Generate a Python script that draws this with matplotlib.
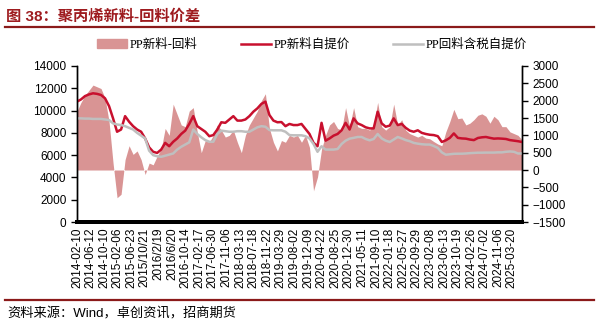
"""PP new vs recycled material price and spread chart."""

import matplotlib
matplotlib.use("Agg")
import matplotlib.pyplot as plt
import numpy as np
from matplotlib.lines import Line2D
from matplotlib.patches import Patch

plt.rcParams["font.family"] = ["Liberation Sans", "Noto Sans CJK SC"]

TICK_LABELS = [
    "2014-02-10", "2014-06-12", "2014-10-10", "2015-02-06", "2015-06-23",
    "2015/10/21", "2016/2/19", "2016/6/20", "2016-10-14", "2017-02-17",
    "2017-06-30", "2017-11-06", "2018-03-13", "2018-07-18", "2018-11-22",
    "2019-03-29", "2019-08-02", "2019-12-09", "2020-04-22", "2020-08-25",
    "2020-12-30", "2021-05-11", "2021-09-10", "2022-01-18", "2022-05-27",
    "2022-09-29", "2023-02-08", "2023-06-13", "2023-10-19", "2024-02-26",
    "2024-07-02", "2024-11-06", "2025-03-20",
]

# PP新料自提价 (left axis)
new_price = [
    10800, 11000, 11300, 11450, 11550, 11500, 11400, 11100, 10400, 9300,
    8100, 8300, 9500, 9000, 8600, 8300, 8100, 7500, 6700, 6300,
    6200, 6500, 7100, 6800, 7200, 7500, 7900, 8200, 8800, 9500,
    8600, 8350, 8100, 7700, 7800, 8300, 8950, 8900, 9200, 9500,
    9100, 9100, 9200, 9500, 9900, 10200, 10600, 10800, 9600, 9100,
    8950, 8970, 8600, 8800, 8700, 8700, 8800, 8350, 7900, 7100,
    6800, 8900, 7300, 7500, 7750, 7900, 8230, 8900, 8300, 9300,
    8850, 8700, 8500, 8400, 8400, 9900, 8850, 8550, 8650, 9300,
    8700, 8800, 8450, 8200, 8100, 8230, 8000, 7900, 7830, 7800,
    7700, 7180, 7330, 7550, 7950, 7550, 7500, 7480, 7400, 7350,
    7540, 7600, 7630, 7550, 7480, 7500, 7480, 7450, 7350, 7300,
    7250, 7180,
]

# PP回料含税自提价 (left axis)
recycled_price = [
    9300, 9300, 9280, 9280, 9250, 9250, 9250, 9200, 9150, 8850,
    8750, 8700, 8600, 8450, 8300, 8000, 7750, 7500, 6400, 6000,
    5900, 5850, 5950, 6050, 6150, 6500, 6750, 6950, 7150, 8300,
    7900, 7600, 7350, 7200, 7200, 7900, 8200, 8150, 8100, 8100,
    8150, 8150, 8100, 8100, 8300, 8500, 8600, 8550, 8250, 8230,
    8230, 8230, 8100, 7800, 7780, 7780, 7780, 7700, 7500, 7000,
    6300, 6800, 6500, 6500, 6500, 6550, 7000, 7300, 7480, 7550,
    7630, 7630, 7450, 7330, 7450, 7900, 7500, 7300, 7180, 7400,
    7630, 7500, 7350, 7250, 7100, 7030, 6980, 6950, 6950, 6820,
    6650, 6250, 6040, 6080, 6120, 6130, 6130, 6150, 6180, 6200,
    6220, 6220, 6230, 6230, 6230, 6250, 6250, 6300, 6330, 6300,
    6150, 6150,
]

# PP新料-回料 (right axis)
spread = [
    1690, 1950, 2150, 2300, 2450, 2400, 2350, 2070, 1400, 200,
    -800, -700, 300, 700, 450, 550, 300, -130, 200, 150,
    400, 600, 1200, 1000, 1900, 1600, 1300, 1250, 1700, 1800,
    1100, 500, 850, 800, 1000, 1300, 1150, 950, 1000, 1150,
    800, 500, 1000, 1300, 1500, 1700, 2000, 2200, 1200, 800,
    550, 850, 800, 1000, 950, 1000, 800, 1000, 650, -600,
    -200, 600, 1000, 1300, 1400, 1200, 1150, 1800, 1250, 1800,
    1250, 1200, 1200, 1150, 1300, 1950, 1250, 1150, 1250, 1900,
    1300, 1450, 1150, 1050, 1000, 950, 1000, 920, 900, 820,
    750, 700, 1100, 1400, 1750, 1480, 1500, 1300, 1350, 1450,
    1580, 1620, 1550, 1350, 1550, 1450, 1250, 1250, 1100, 1050,
    1000, 870,
]

RED = "#C8102E"
GRAY = "#BFBFBF"
AREA = "#D99494"
TITLE_RED = "#9E1B1F"

x = np.arange(len(new_price))

fig = plt.figure(figsize=(6, 3.24), dpi=100)
ax = fig.add_axes([0.1283, 0.3148, 0.7417, 0.4815])
ax2 = ax.twinx()

ax2.fill_between(x, 0, spread, color=AREA, lw=0)
ax.plot(x, new_price, color=RED, lw=1.8)
ax.plot(x, recycled_price, color=GRAY, lw=1.8)

ax.set_zorder(ax2.get_zorder() + 1)
ax.patch.set_visible(False)

ax.set_ylim(0, 14000)
ax.set_yticks(np.arange(0, 14001, 2000))
ax2.set_ylim(-1500, 3000)
ax2.set_yticks(np.arange(-1500, 3001, 500))
ax.set_xlim(0, len(new_price) - 1)

# labels sit every ~13.56 px, samples every 4 px
tick_pos = np.arange(len(TICK_LABELS)) * 3.39
ax.set_xticks(tick_pos)
ax.set_xticklabels(TICK_LABELS, rotation=90, fontsize=8.5)
ax.tick_params(axis="x", length=0, pad=4)
ax.tick_params(axis="y", labelsize=8.5, length=4, width=1, direction="out")
ax2.tick_params(axis="y", labelsize=8.5, length=4, width=1, direction="out")

for a in (ax, ax2):
    a.spines["top"].set_visible(False)
    a.spines["left"].set_linewidth(1)
    a.spines["right"].set_linewidth(1)
    a.spines["bottom"].set_linewidth(2.8)

# title + rules
fig.text(0.01, 1 - 17 / 324, "图 38：聚丙烯新料-回料价差", color=TITLE_RED,
         fontsize=11, weight="bold", va="center", ha="left")
fig.add_artist(Line2D([0.008, 0.99], [1 - 27 / 324] * 2, color="#8B1A1A", lw=1.6))
fig.add_artist(Line2D([0.008, 0.99], [1 - 300 / 324] * 2, color="#8B1A1A", lw=1.6))
fig.text(0.012, 1 - 314 / 324, "资料来源：Wind，卓创资讯，招商期货",
         fontsize=9.5, va="center", ha="left")

handles = [
    Patch(color=AREA, label="PP新料-回料"),
    Line2D([], [], color=RED, lw=1.8, label="PP新料自提价"),
    Line2D([], [], color=GRAY, lw=1.8, label="PP回料含税自提价"),
]
fig.legend(handles=handles, loc="center", bbox_to_anchor=(0.52, 1 - 45 / 324),
           ncol=3, frameon=False, handlelength=2.4, columnspacing=3.5,
           handletextpad=0.2,
           prop={"family": ["Liberation Serif", "Noto Sans CJK SC"], "size": 9})

fig.savefig("out.png", dpi=100)
